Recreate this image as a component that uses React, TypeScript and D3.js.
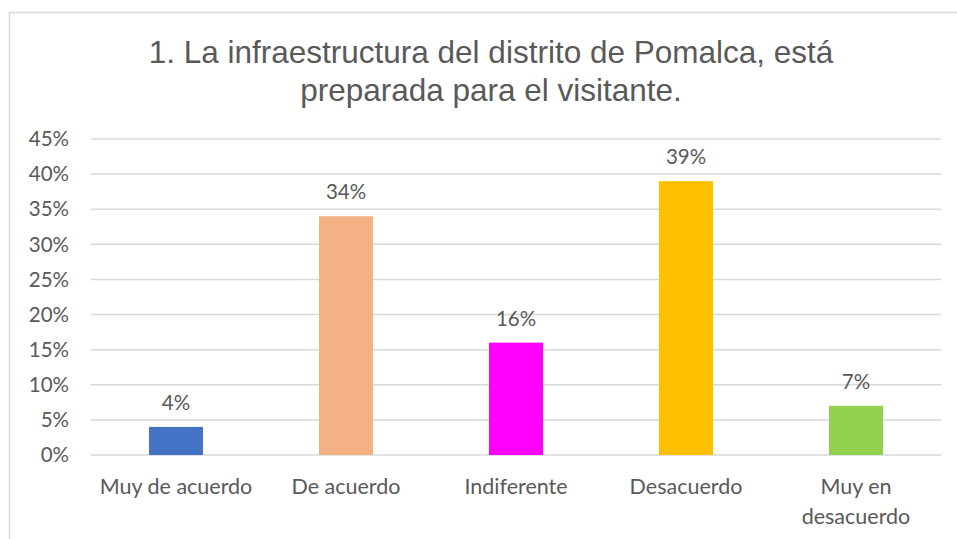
import * as d3 from 'd3'
import React from 'react';

// Data
const categories = ['Muy de acuerdo', 'De acuerdo', 'Indiferente', 'Desacuerdo', 'Muy en desacuerdo'];
const values = [0.04, 0.34, 0.16, 0.39, 0.07];
const colors = ['#4472C4', '#F4B183', '#FF00FF', '#FFC000', '#92D050'];
const yTicks = [0, 0.05, 0.1, 0.15, 0.2, 0.25, 0.3, 0.35, 0.4, 0.45];
const titleLines = ['1. La infraestructura del distrito de Pomalca, está', 'preparada para el visitante.'];
// Category labels that wrap onto two lines
const wrapped: Record<string, string[]> = { 'Muy en desacuerdo': ['Muy en', 'desacuerdo'] };

const W = 957;
const H = 539;
const margin = { top: 139, right: 16, bottom: 84, left: 91 };

const App = () => {
    const graphW = W - margin.left - margin.right;
    const graphH = H - margin.top - margin.bottom;

    const x = d3.scaleBand().domain(categories).range([0, graphW]).paddingInner(0).paddingOuter(0);
    const y = d3.scaleLinear().domain([0, 0.45]).range([graphH, 0]);
    const barW = 54;
    const fmt = d3.format('.0%');
    const labelFont = 'Lato, "Open Sans", sans-serif';
    const textColor = '#595959';

    return (
        <svg width={W} height={H} style={{ position: 'absolute', left: 0, top: 0, background: '#fff' }}>
            {/* Chart border */}
            <rect x={9.5} y={12.5} width={W + 10} height={H + 10} fill="#fff" stroke="#d9d9d9" strokeWidth={1.5} />

            {/* Title */}
            <text textAnchor="middle" fill={textColor} fontFamily='"Liberation Sans", Arial, sans-serif' fontSize={31.5}>
                {titleLines.map((t, i) => (
                    <tspan key={i} x={491} y={63 + i * 38}>{t}</tspan>
                ))}
            </text>

            <g transform={`translate(${margin.left}, ${margin.top})`}>
                {/* Gridlines and y ticks */}
                {yTicks.map(t => (
                    <g key={t}>
                        <line x1={0} x2={graphW} y1={y(t)} y2={y(t)} stroke="#d9d9d9" strokeWidth={1.5} />
                        <text x={-22} y={y(t)} dy="0.35em" textAnchor="end" fill={textColor}
                            fontFamily={labelFont} fontSize={20.5}>{fmt(t)}</text>
                    </g>
                ))}

                {/* Bars */}
                {categories.map((c, i) => {
                    const cx = (x(c) ?? 0) + x.bandwidth() / 2;
                    return (
                        <g key={c}>
                            <rect x={cx - barW / 2} y={y(values[i])} width={barW} height={graphH - y(values[i])} fill={colors[i]} />
                            <text x={cx} y={y(values[i]) - 17} textAnchor="middle" fill={textColor}
                                fontFamily={labelFont} fontSize={20.5}>{fmt(values[i])}</text>
                            <text textAnchor="middle" fill={textColor} fontFamily={labelFont} fontSize={21.5}>
                                {(wrapped[c] || [c]).map((l, j) => (
                                    <tspan key={j} x={cx} y={graphH + 39 + j * 30}>{l}</tspan>
                                ))}
                            </text>
                        </g>
                    );
                })}
            </g>
        </svg>
    );
}

export default App;
